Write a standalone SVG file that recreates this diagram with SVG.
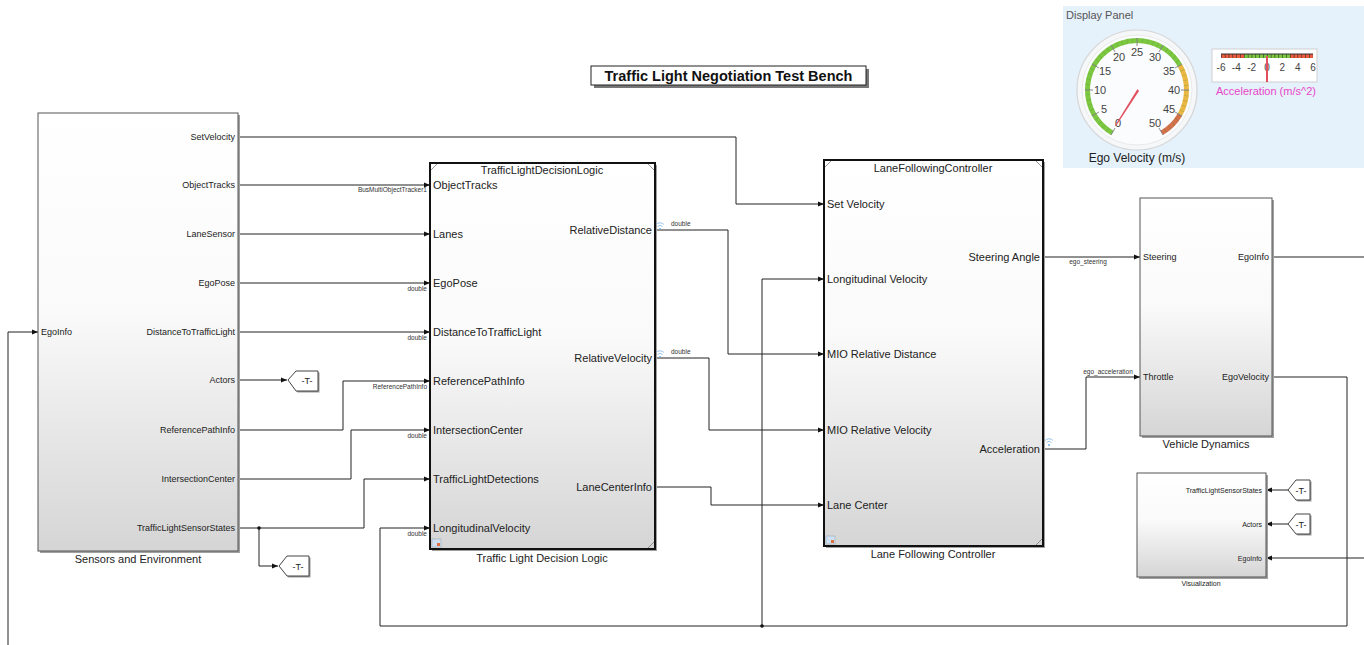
<svg xmlns="http://www.w3.org/2000/svg" width="1364" height="645" viewBox="0 0 1364 645">
<defs>
  <linearGradient id="gBlock" x1="0" y1="0" x2="0" y2="1">
    <stop offset="0" stop-color="#ffffff"/>
    <stop offset="0.45" stop-color="#fafafa"/>
    <stop offset="1" stop-color="#d5d5d5"/>
  </linearGradient>
  <marker id="arr" viewBox="0 0 6 6" refX="6" refY="3" markerWidth="6" markerHeight="6" markerUnits="userSpaceOnUse" orient="auto">
    <path d="M0,0.5 L6,3 L0,5.5 z" fill="#111"/>
  </marker>
</defs>
<style>
  .w{fill:none;stroke:#222;stroke-width:1}
  .wa{fill:none;stroke:#222;stroke-width:1;marker-end:url(#arr)}
  .blk{fill:url(#gBlock);stroke:#555;stroke-width:1}
  .mref{fill:url(#gBlock);stroke:#111;stroke-width:2}
  .shadow{fill:#a0a0a0}
  .tag{fill:#fff;stroke:#444;stroke-width:1}
  text{font-family:"Liberation Sans",Arial,Helvetica,sans-serif;fill:#222}
  .p9{font-size:9px}
  .p11{font-size:11px}
  .p7{font-size:7px}
  .sig{font-size:6.5px;fill:#333}
  .r{text-anchor:end}
  .m{text-anchor:middle}
  .wl{fill:none;stroke:#7fb6e6;stroke-width:0.8}
  .gnum{font-size:11px;fill:#444;text-anchor:middle}
</style>

<rect x="0" y="0" width="1364" height="645" fill="#ffffff"/>

<!-- Title -->
<g id="title">
  <rect x="594" y="69" width="275" height="19" fill="#777"/>
  <rect x="591" y="66" width="275" height="19" fill="#fff" stroke="#222" stroke-width="1"/>
  <text x="728.5" y="81" class="m" style="font-size:14.5px;font-weight:bold;fill:#111">Traffic Light Negotiation Test Bench</text>
</g>

<!-- Display Panel -->
<g id="display_panel">
  <rect x="1063" y="6" width="301" height="162" fill="#e5f1fb"/>
  <text x="1066" y="19" style="font-size:11px;fill:#555">Display Panel</text>
  <circle cx="1137" cy="90" r="60" fill="#f5f7f9" stroke="#d6d6d6" stroke-width="1.2"/>
  <circle cx="1137" cy="90" r="55" fill="#fbfcfd" stroke="#e4e4e4" stroke-width="0.8"/>
  <path d="M1112.25,132.87 A49.5,49.5 0 1 1 1179.87,65.25" fill="none" stroke="#7cc841" stroke-width="5"/>
  <path d="M1179.87,65.25 A49.5,49.5 0 0 1 1179.87,114.75" fill="none" stroke="#eab842" stroke-width="5"/>
  <path d="M1179.87,114.75 A49.5,49.5 0 0 1 1161.75,132.87" fill="none" stroke="#d4704a" stroke-width="5"/>
  <path d="M1112.25,132.87 A49.5,49.5 0 1 1 1161.75,132.87" fill="none" stroke="#5a8a3a" stroke-width="5" stroke-opacity="0.35" stroke-dasharray="0.7 4.48"/>
  <g stroke="#888" stroke-width="1">
    <line x1="1115" y1="128.1" x2="1111" y2="135"/>
    <line x1="1098.9" y1="112" x2="1092" y2="116"/>
    <line x1="1093" y1="90" x2="1085" y2="90"/>
    <line x1="1098.9" y1="68" x2="1092" y2="64"/>
    <line x1="1115" y1="51.9" x2="1111" y2="45"/>
    <line x1="1137" y1="46" x2="1137" y2="38"/>
    <line x1="1159" y1="51.9" x2="1163" y2="45"/>
    <line x1="1175.1" y1="68" x2="1182" y2="64"/>
    <line x1="1181" y1="90" x2="1189" y2="90"/>
    <line x1="1175.1" y1="112" x2="1182" y2="116"/>
    <line x1="1159" y1="128.1" x2="1163" y2="135"/>
  </g>
  <text x="1118" y="127" class="gnum">0</text>
  <text x="1104" y="113" class="gnum">5</text>
  <text x="1100" y="94" class="gnum">10</text>
  <text x="1105" y="75" class="gnum">15</text>
  <text x="1119" y="61" class="gnum">20</text>
  <text x="1137" y="56" class="gnum">25</text>
  <text x="1155" y="61" class="gnum">30</text>
  <text x="1169" y="75" class="gnum">35</text>
  <text x="1174" y="94" class="gnum">40</text>
  <text x="1169" y="113" class="gnum">45</text>
  <text x="1155" y="127" class="gnum">50</text>
  <polygon points="1137.5,89 1139,91 1116,126 1115,125.5" fill="#e0505e"/>
  <text x="1137" y="162" class="m" style="font-size:12px;fill:#222">Ego Velocity (m/s)</text>
  <rect x="1212" y="49" width="105" height="33" fill="#fff" stroke="#cfcfcf" stroke-width="1"/>
  <rect x="1221" y="54" width="23" height="4" fill="#ee5a3c"/>
  <rect x="1244" y="54" width="46" height="4" fill="#7cc841"/>
  <rect x="1290" y="54" width="23" height="4" fill="#ee5a3c"/>
  <line x1="1221" y1="54" x2="1313" y2="54" stroke="#333" stroke-width="1"/>
  <line x1="1221" y1="54" x2="1313" y2="54" stroke="#333" stroke-width="4" stroke-dasharray="0.6 3.23" transform="translate(0,2)"/>
  <g style="font-size:10px;text-anchor:middle">
    <text x="1221" y="71" style="fill:#444">-6</text>
    <text x="1236.3" y="71" style="fill:#444">-4</text>
    <text x="1251.7" y="71" style="fill:#444">-2</text>
    <text x="1267" y="71" style="fill:#444">0</text>
    <text x="1282.3" y="71" style="fill:#444">2</text>
    <text x="1297.7" y="71" style="fill:#444">4</text>
    <text x="1313" y="71" style="fill:#444">6</text>
  </g>
  <line x1="1267" y1="56" x2="1267" y2="82" stroke="#e0505e" stroke-width="2"/>
  <text x="1266" y="95" class="m" style="font-size:11px;fill:#e846c8">Acceleration (m/s^2)</text>
</g>

<!-- Connectors -->
<g id="connectors">
  <path class="wa" d="M238,137 H736 V204 H824"/>
  <path class="wa" d="M238,185 H430"/>
  <path class="wa" d="M238,234 H430"/>
  <path class="wa" d="M238,283 H430"/>
  <path class="wa" d="M238,332 H430"/>
  <path class="wa" d="M238,380 H287"/>
  <path class="wa" d="M238,430 H343 V381 H430"/>
  <path class="wa" d="M238,479 H351 V430 H430"/>
  <path class="wa" d="M238,528 H364 V479 H430"/>
  <path class="wa" d="M259,528 V566 H278"/>
  <circle cx="259" cy="528" r="1.8" fill="#111"/>
  <path class="wa" d="M8,645 V332 H38"/>
  <path class="wa" d="M655,230 H728 V354 H824"/>
  <path class="wa" d="M655,358 H709 V430 H824"/>
  <path class="wa" d="M655,487 H711 V505 H824"/>
  <path class="wa" d="M1272,377 H1347 V626 H380 V528 H430"/>
  <path class="wa" d="M762,626 V279 H824"/>
  <circle cx="762" cy="626" r="1.8" fill="#111"/>
  <path class="wa" d="M1043,257 H1140"/>
  <path class="wa" d="M1043,449 H1086 V377 H1140"/>
  <path class="w" d="M1272,257 H1364"/>
  <path class="wa" d="M1364,558 H1266"/>
  <path class="wa" d="M1288,490 H1266"/>
  <path class="wa" d="M1288,524 H1266"/>
  <text x="427" y="192" class="sig r">BusMultiObjectTracker1</text>
  <text x="427" y="291" class="sig r">double</text>
  <text x="427" y="340" class="sig r">double</text>
  <text x="427" y="389" class="sig r">ReferencePathInfo</text>
  <text x="427" y="438" class="sig r">double</text>
  <text x="427" y="536" class="sig r">double</text>
  <text x="671" y="226" class="sig">double</text>
  <text x="671" y="354" class="sig">double</text>
  <text x="1088" y="264" class="sig m">ego_steering</text>
  <text x="1108" y="374" class="sig m">ego_acceleration</text>
  <g>
    <circle cx="660" cy="229" r="0.9" fill="#6aa8e0"/>
    <path class="wl" d="M657.5,226.5 A3.5,3.5 0 0 1 662.5,226.5 M656,224.5 A5.5,5.5 0 0 1 664,224.5"/>
    <circle cx="660" cy="357" r="0.9" fill="#6aa8e0"/>
    <path class="wl" d="M657.5,354.5 A3.5,3.5 0 0 1 662.5,354.5 M656,352.5 A5.5,5.5 0 0 1 664,352.5"/>
    <circle cx="1049" cy="445" r="0.9" fill="#6aa8e0"/>
    <path class="wl" d="M1046.5,442.5 A3.5,3.5 0 0 1 1051.5,442.5 M1045,440.5 A5.5,5.5 0 0 1 1053,440.5"/>
  </g>
</g>

<!-- Sensors and Environment -->
<g id="sensors">
  <rect x="40" y="115" width="200" height="438" class="shadow"/>
  <rect x="38" y="113" width="200" height="438" class="blk"/>
  <text x="235" y="140" class="p9 r">SetVelocity</text>
  <text x="235" y="188" class="p9 r">ObjectTracks</text>
  <text x="235" y="237" class="p9 r">LaneSensor</text>
  <text x="235" y="286" class="p9 r">EgoPose</text>
  <text x="235" y="335" class="p9 r">DistanceToTrafficLight</text>
  <text x="235" y="383" class="p9 r">Actors</text>
  <text x="235" y="433" class="p9 r">ReferencePathInfo</text>
  <text x="235" y="482" class="p9 r">IntersectionCenter</text>
  <text x="235" y="531" class="p9 r">TrafficLightSensorStates</text>
  <text x="41" y="335" class="p9">EgoInfo</text>
  <text x="138" y="563" class="p11 m">Sensors and Environment</text>
</g>

<g id="goto_actors">
  <polygon points="288,380 296,371 318,371 318,391 296,391" fill="#999" transform="translate(1.5,1.5)"/>
  <polygon points="288,380 296,371 318,371 318,391 296,391" class="tag"/>
  <text x="307" y="384" class="p9 m">-T-</text>
</g>
<g id="goto_tlss">
  <polygon points="279,566 287,556 309,556 309,576 287,576" fill="#999" transform="translate(1.5,1.5)"/>
  <polygon points="279,566 287,556 309,556 309,576 287,576" class="tag"/>
  <text x="298" y="570" class="p9 m">-T-</text>
</g>

<!-- Traffic Light Decision Logic -->
<g id="tldl">
  <rect x="432" y="165" width="225" height="386" class="shadow"/>
  <rect x="430" y="163" width="225" height="386" class="mref"/>
  <path d="M431,170 L437,164" stroke="#777" stroke-width="0.8"/>
  <path d="M648,164 L654,170" stroke="#777" stroke-width="0.8"/>
  <path d="M648,548 L654,542" stroke="#777" stroke-width="0.8"/>
  <text x="542" y="174" class="p11 m">TrafficLightDecisionLogic</text>
  <text x="433" y="189" class="p11">ObjectTracks</text>
  <text x="433" y="238" class="p11">Lanes</text>
  <text x="433" y="287" class="p11">EgoPose</text>
  <text x="433" y="336" class="p11">DistanceToTrafficLight</text>
  <text x="433" y="385" class="p11">ReferencePathInfo</text>
  <text x="433" y="434" class="p11">IntersectionCenter</text>
  <text x="433" y="483" class="p11">TrafficLightDetections</text>
  <text x="433" y="532" class="p11">LongitudinalVelocity</text>
  <text x="652" y="234" class="p11 r">RelativeDistance</text>
  <text x="652" y="362" class="p11 r">RelativeVelocity</text>
  <text x="652" y="491" class="p11 r">LaneCenterInfo</text>
  <rect x="432" y="539" width="9" height="8" fill="#cfe0f0" stroke="#9ab" stroke-width="0.6"/>
  <rect x="437" y="543" width="3" height="3" fill="#e07040"/>
  <text x="542" y="562" class="p11 m">Traffic Light Decision Logic</text>
</g>

<!-- Lane Following Controller -->
<g id="lfc">
  <rect x="826" y="162" width="219" height="386" class="shadow"/>
  <rect x="824" y="160" width="219" height="386" class="mref"/>
  <path d="M825,167 L831,161" stroke="#777" stroke-width="0.8"/>
  <path d="M1036,161 L1042,167" stroke="#777" stroke-width="0.8"/>
  <path d="M1036,545 L1042,539" stroke="#777" stroke-width="0.8"/>
  <text x="933" y="172" class="p11 m">LaneFollowingController</text>
  <text x="827" y="208" class="p11">Set Velocity</text>
  <text x="827" y="283" class="p11">Longitudinal Velocity</text>
  <text x="827" y="358" class="p11">MIO Relative Distance</text>
  <text x="827" y="434" class="p11">MIO Relative Velocity</text>
  <text x="827" y="509" class="p11">Lane Center</text>
  <text x="1040" y="261" class="p11 r">Steering Angle</text>
  <text x="1040" y="453" class="p11 r">Acceleration</text>
  <rect x="826" y="536" width="9" height="8" fill="#cfe0f0" stroke="#9ab" stroke-width="0.6"/>
  <rect x="831" y="540" width="3" height="3" fill="#e07040"/>
  <text x="933" y="558" class="p11 m">Lane Following Controller</text>
</g>

<!-- Vehicle Dynamics -->
<g id="vehicle_dynamics">
  <rect x="1142" y="200" width="132" height="238" class="shadow"/>
  <rect x="1140" y="198" width="132" height="238" class="blk"/>
  <text x="1143" y="260" class="p9">Steering</text>
  <text x="1143" y="380" class="p9">Throttle</text>
  <text x="1269" y="260" class="p9 r">EgoInfo</text>
  <text x="1269" y="380" class="p9 r">EgoVelocity</text>
  <text x="1206" y="448" class="p11 m">Vehicle Dynamics</text>
</g>

<!-- Visualization -->
<g id="visualization">
  <rect x="1139" y="475" width="129" height="104" class="shadow"/>
  <rect x="1137" y="473" width="129" height="104" class="blk"/>
  <text x="1262" y="492.5" class="p7 r">TrafficLightSensorStates</text>
  <text x="1262" y="526.5" class="p7 r">Actors</text>
  <text x="1262" y="560.5" class="p7 r">EgoInfo</text>
  <text x="1201" y="586" class="p7 m">Visualization</text>
</g>

<g id="from_tlss">
  <polygon points="1288,490 1296,480 1310,480 1310,500 1296,500" fill="#999" transform="translate(1.5,1.5)"/>
  <polygon points="1288,490 1296,480 1310,480 1310,500 1296,500" class="tag"/>
  <text x="1301" y="494" class="p9 m">-T-</text>
</g>
<g id="from_actors">
  <polygon points="1288,524 1296,514 1310,514 1310,534 1296,534" fill="#999" transform="translate(1.5,1.5)"/>
  <polygon points="1288,524 1296,514 1310,514 1310,534 1296,534" class="tag"/>
  <text x="1301" y="528" class="p9 m">-T-</text>
</g>
</svg>
